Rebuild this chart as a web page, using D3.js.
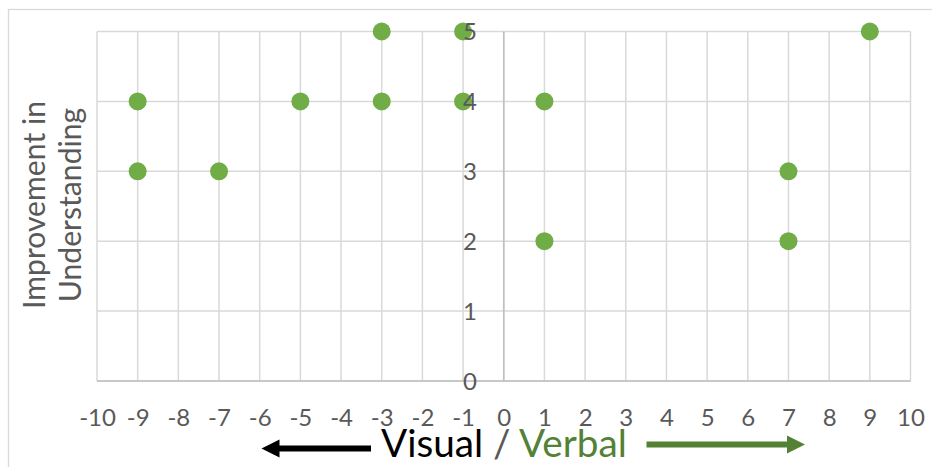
<!DOCTYPE html>
<html>
<head>
<meta charset="utf-8">
<script src="https://cdn.jsdelivr.net/npm/d3@7"></script>
<style>
  html, body { margin: 0; padding: 0; background: #fff; }
  svg { display: block; font-family: Lato, "Open Sans", sans-serif; }
</style>
</head>
<body>
<svg id="chart" width="932" height="467"></svg>
<script>
// Data
const xValues = [-9, -9, -7, -5, -3, -3, -1, -1, 1, 1, 7, 7, 9];
const yValues = [4, 3, 3, 4, 5, 4, 5, 4, 4, 2, 3, 2, 5];
const xTicks = [-10, -9, -8, -7, -6, -5, -4, -3, -2, -1, 0, 1, 2, 3, 4, 5, 6, 7, 8, 9, 10];
const yTicks = [0, 1, 2, 3, 4, 5];
const yTitleLines = ["Improvement in", "Understanding"];
const xTitleParts = [
  { text: "Visual", color: "#000000" },
  { text: " / ", color: "#595959" },
  { text: "Verbal", color: "#538135" }
];

(function () {
const svg = d3.select("#chart");
const pL = 97, pR = 910.5, pT = 31.5, pB = 381;

const x = d3.scaleLinear().domain([-10, 10]).range([pL, pR]);
const y = d3.scaleLinear().domain([0, 5]).range([pB, pT]);

// outer chart frame
svg.append("rect")
  .attr("x", 8.5).attr("y", 9.5)
  .attr("width", 1000).attr("height", 1000)
  .attr("fill", "none").attr("stroke", "#d9d9d9").attr("stroke-width", 1.3);

// gridlines
const grid = svg.append("g");
grid.selectAll("line.v").data(xTicks).enter().append("line")
  .attr("x1", d => x(d)).attr("x2", d => x(d))
  .attr("y1", pT).attr("y2", pB)
  .attr("stroke", "#d9d9d9").attr("stroke-width", 1.5);
grid.selectAll("line.h").data(yTicks).enter().append("line")
  .attr("x1", pL).attr("x2", pR)
  .attr("y1", d => y(d)).attr("y2", d => y(d))
  .attr("stroke", "#d9d9d9").attr("stroke-width", 1.5);

// axis lines
svg.append("line")
  .attr("x1", pL).attr("x2", pR)
  .attr("y1", y(0)).attr("y2", y(0))
  .attr("stroke", "#bfbfbf").attr("stroke-width", 1.6);
svg.append("line")
  .attr("x1", x(0)).attr("x2", x(0))
  .attr("y1", pT).attr("y2", pB)
  .attr("stroke", "#bfbfbf").attr("stroke-width", 1.6);

const fmt = d => String(d);

// x-axis tick labels via d3 axis
const xAxis = d3.axisBottom(x).tickValues(xTicks).tickSize(0).tickPadding(0).tickFormat(fmt);
const xg = svg.append("g").attr("transform", "translate(0, 418)").call(xAxis);
xg.select(".domain").remove();
xg.selectAll("text")
  .attr("dy", "0.35em").attr("y", 0)
  .attr("fill", "#595959").style("font-size", "24px")
  .style("font-family", "Lato, 'Open Sans', sans-serif");

// y-axis tick labels
const yAxis = d3.axisLeft(y).tickValues(yTicks).tickSize(0).tickPadding(0).tickFormat(fmt);
const yg = svg.append("g").attr("transform", "translate(477, 0)").call(yAxis);
yg.select(".domain").remove();
yg.selectAll("text")
  .attr("x", 0).attr("dy", "0.35em")
  .attr("fill", "#595959").style("font-size", "24px")
  .style("font-family", "Lato, 'Open Sans', sans-serif");

// points
const pts = xValues.map((v, i) => ({ x: v, y: yValues[i] }));
svg.append("g").selectAll("circle").data(pts).enter().append("circle")
  .attr("cx", d => x(d.x)).attr("cy", d => y(d.y))
  .attr("r", 9).attr("fill", "#70ad47");

// bring y labels on top of points
yg.raise();

// y title (rotated, two lines)
const yt = svg.append("text")
  .attr("transform", "translate(0, 205) rotate(-90)")
  .attr("text-anchor", "middle")
  .attr("fill", "#595959")
  .style("font-size", "28px");
yt.selectAll("tspan").data(yTitleLines).enter().append("tspan")
  .attr("x", 0).attr("y", (d, i) => 45 + i * 36)
  .text(d => d);
{
  const len = yt.select("tspan").node().getComputedTextLength();
  const fs = 28 * 208 / len;
  yt.style("font-size", fs + "px");
}

// x title
const xt = svg.append("text")
  .attr("x", 381).attr("y", 457)
  .attr("xml:space", "preserve")
  .style("white-space", "pre")
  .style("font-size", "38px");
xt.selectAll("tspan").data(xTitleParts).enter().append("tspan")
  .attr("fill", d => d.color)
  .text(d => d.text);
{
  const len = xt.node().getComputedTextLength();
  const fs = 38 * 246 / len;
  xt.style("font-size", fs + "px");
}

// arrows
function arrow(x1, x2, yy, color, w) {
  const dir = Math.sign(x2 - x1);
  const headLen = 18, headH = 18;
  svg.append("line")
    .attr("x1", x1).attr("x2", x2 - dir * headLen + dir * 1)
    .attr("y1", yy).attr("y2", yy)
    .attr("stroke", color).attr("stroke-width", w);
  svg.append("path")
    .attr("d", `M${x2},${yy} L${x2 - dir * headLen},${yy - headH / 2} L${x2 - dir * headLen},${yy + headH / 2} Z`)
    .attr("fill", color);
}
arrow(371, 261.5, 448.5, "#000000", 6);
arrow(646.5, 805, 444.5, "#548235", 6);
})();
</script>
</body>
</html>
